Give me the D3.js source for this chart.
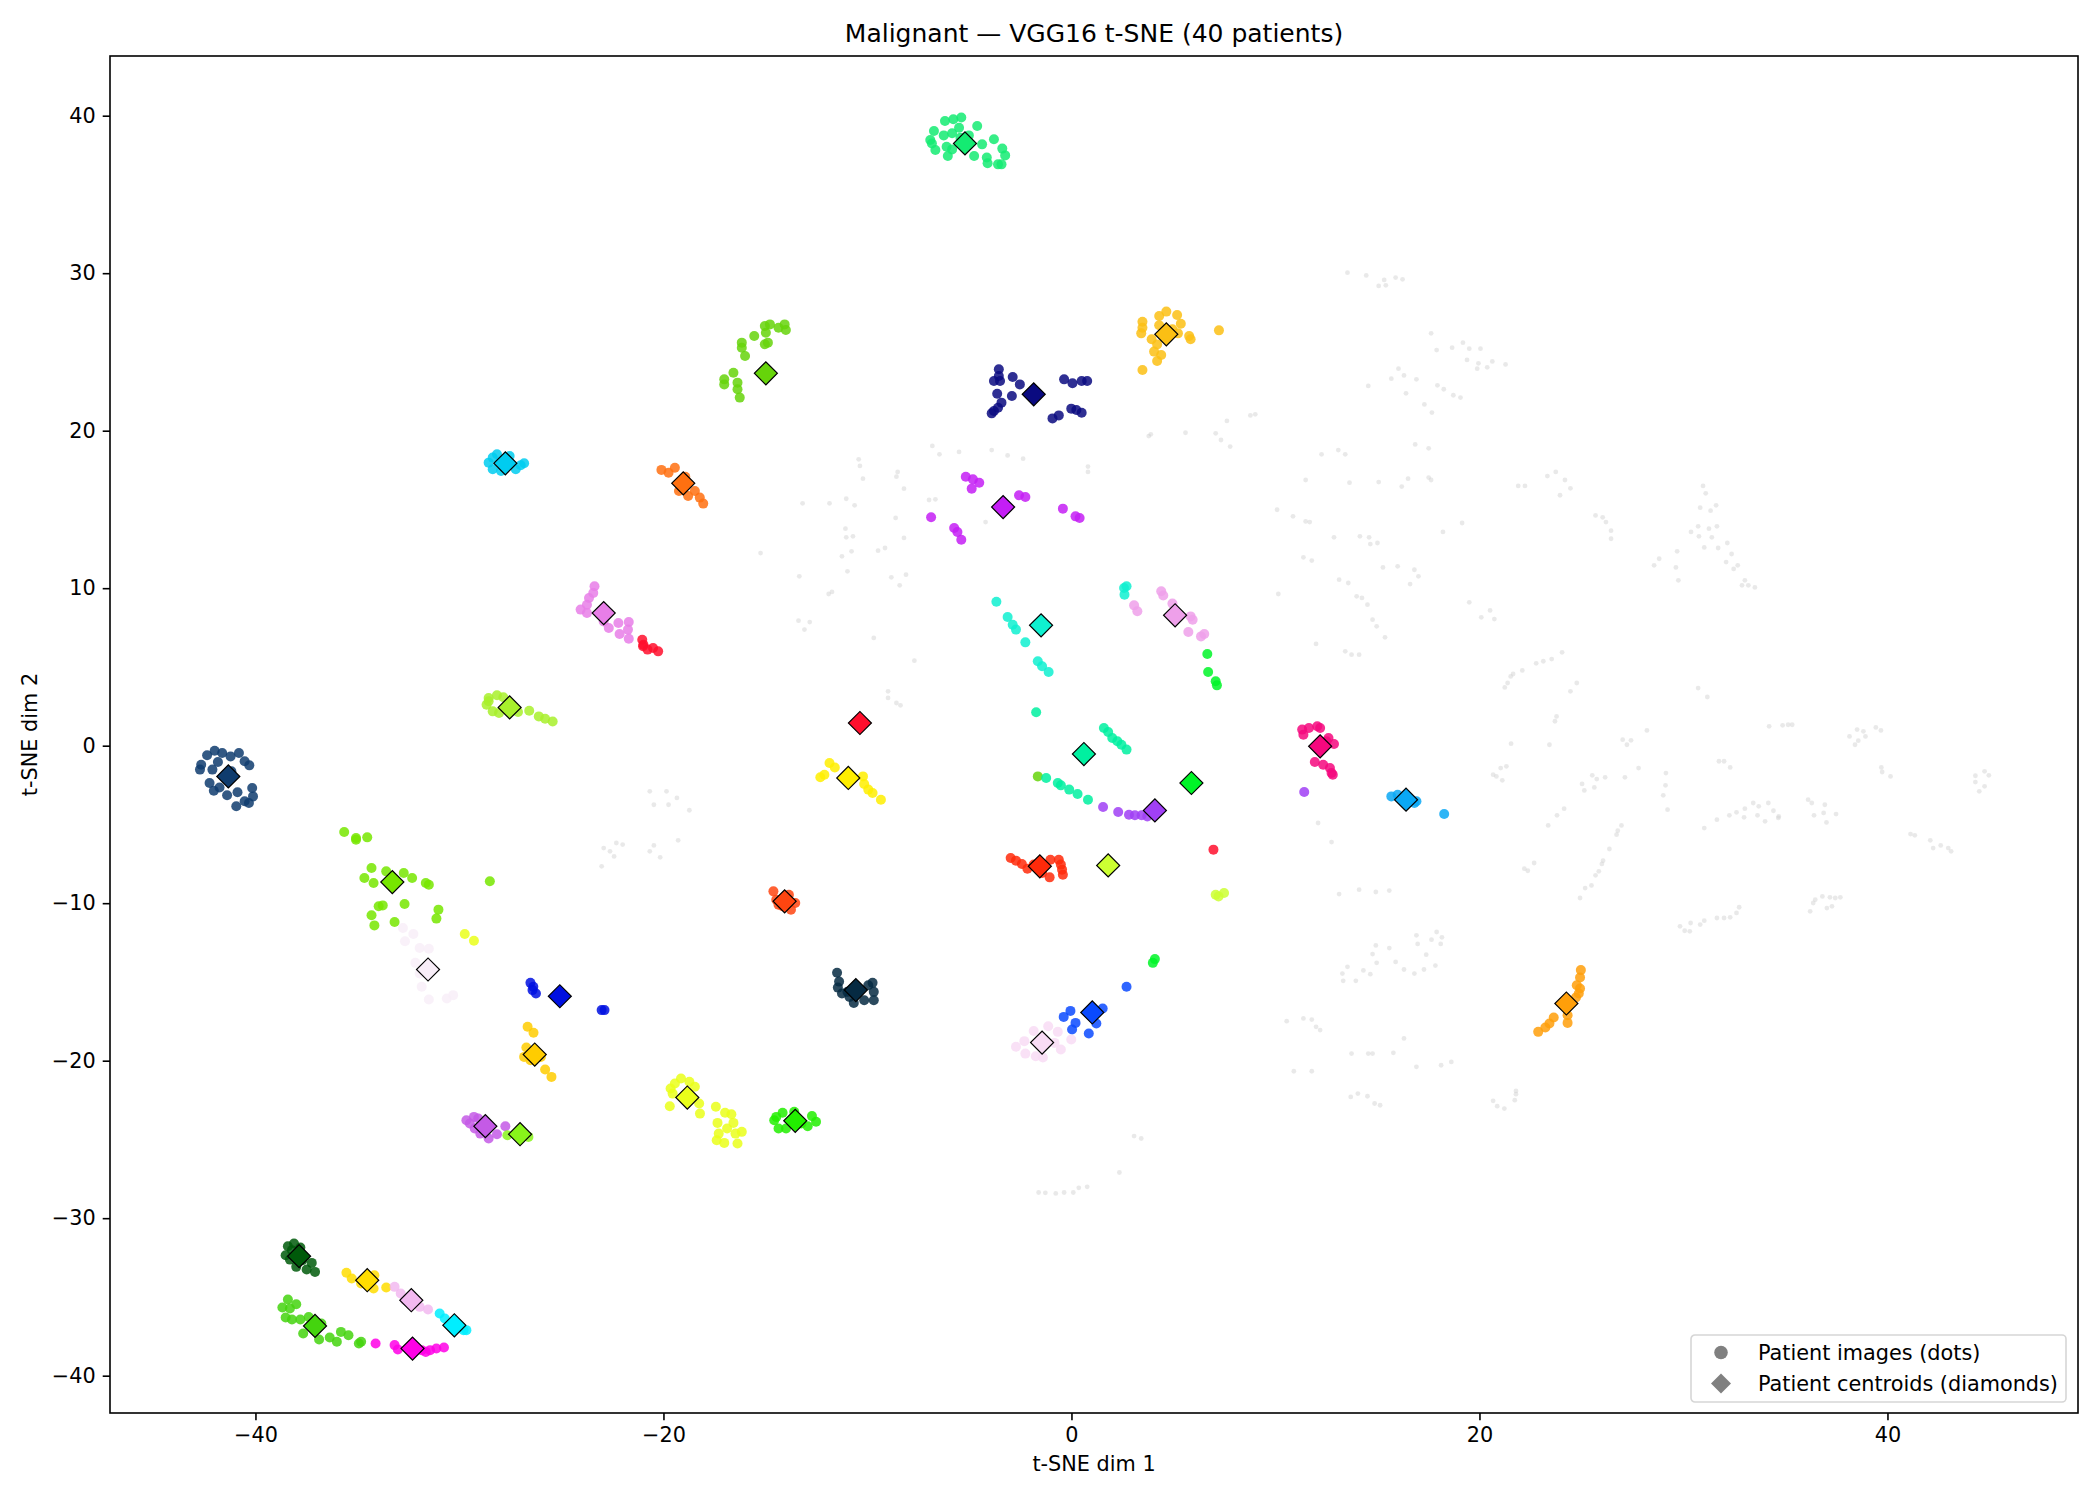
<!DOCTYPE html>
<html>
<head>
<meta charset="utf-8">
<script src="https://cdn.jsdelivr.net/npm/d3@7"></script>
<style>
  body { margin: 0; background: #fff; }
  text { font-family: "DejaVu Sans", sans-serif; fill: #000; }
</style>
</head>
<body>
<div id="chart"></div>
<script>
// ticks
const xTicks = [-40, -20, 0, 20, 40];
const yTicks = [-40, -30, -20, -10, 0, 10, 20, 30, 40];

// one colour per patient
const patientColors = [
  "#14eb72", "#fbbf14", "#0a0a80", "#66d40a", "#00ccf0", "#ff7010", "#c41ef5", "#e87ee8",
  "#ff0f2d", "#a8f02c", "#0f3c6e", "#77e600", "#f8eef8", "#0010e0", "#ffcc00", "#c45ae6",
  "#88f51a", "#005a0a", "#ffdd00", "#f2b8f0", "#00eeff", "#44d40e", "#ff00e6", "#ffee00",
  "#ff4510", "#062a42", "#eaff1a", "#22ee00", "#0ff0d0", "#00f0a0", "#a040f5", "#00f528",
  "#eea0ea", "#f5087e", "#0aa8f5", "#ff2a0a", "#ccff33", "#0a4aff", "#f8dcf5", "#ff9f0a"
];

// patient centroids (diamonds)
const centroids = [
  [-5.22, 38.24], [4.65, 26.12], [-1.85, 22.31], [-14.98, 23.64], [-27.75, 17.93], [-19.03, 16.66],
  [-3.35, 15.15], [-22.93, 8.42], [-10.37, 1.44], [-27.54, 2.43], [-41.33, -1.95], [-33.29, -8.66],
  [-31.54, -14.21], [-25.08, -15.91], [-26.31, -19.61], [-28.73, -24.16], [-27.03, -24.67], [-37.86, -32.41],
  [-34.52, -33.94], [-32.36, -35.21], [-30.25, -36.8], [-37.08, -36.84], [-32.3, -38.28], [-10.94, -2.05],
  [-14.06, -9.88], [-10.57, -15.52], [-18.83, -22.34], [-13.54, -23.82], [-1.49, 7.64], [0.61, -0.53],
  [4.09, -4.11], [5.88, -2.37], [5.08, 8.28], [12.19, -0.04], [16.4, -3.43], [-1.55, -7.66],
  [1.8, -7.6], [1.02, -16.94], [-1.44, -18.85], [24.26, -16.37]
];

// image embeddings for each patient (dots)
const patientDots = [
  [[-6.2,39.66],[-5.79,39.77],[-5.4,39.88],[-4.62,39.35],[-6.74,39.03],[-6.26,38.75],[-5.85,38.88],[-5.51,39.24],[-5.03,38.75],[-6.92,38.46],[-6.84,38.24],[-6.67,37.82],[-6.12,38.03],[-6.06,37.44],[-5.85,37.86],[-4.77,37.44],[-4.38,38.18],[-3.8,38.5],[-3.39,37.91],[-3.25,37.48],[-4.15,37.34],[-4.11,36.98],[-3.6,36.91],[-3.43,36.91],[-5.44,38.6]],
  [[3.48,26.92],[3.48,26.54],[3.42,26.18],[4.3,27.28],[4.65,27.56],[5.18,27.35],[5.36,26.79],[4.95,26.44],[5.22,26.18],[5.77,26.01],[5.84,25.8],[3.93,25.8],[4.2,25.48],[4.05,25.02],[4.4,24.81],[4.2,24.43],[3.48,23.85],[7.23,26.37],[4.3,26.69]],
  [[-3.56,23.9],[-3.56,23.47],[-3.8,23.16],[-3.5,23.16],[-2.88,23.41],[-2.53,22.94],[-3.64,22.35],[-2.92,22.2],[-3.43,21.78],[-3.6,21.46],[-3.8,21.25],[-3.91,21.1],[-0.36,23.26],[0.05,23.01],[0.5,23.16],[0.77,23.16],[-0.01,21.4],[0.24,21.31],[0.5,21.14],[-0.62,20.97],[-0.93,20.78]],
  [[-16.16,25.59],[-16.16,25.27],[-16.0,24.74],[-15.55,26.01],[-15.03,26.65],[-15.03,25.49],[-17.02,23.26],[-16.57,23.68],[-16.37,23.05],[-16.37,22.63],[-16.26,22.1],[-17.02,22.94],[-14.78,26.75],[-14.06,26.75],[-14.0,26.39],[-14.88,25.59],[-14.98,26.22],[-14.36,26.54],[-1.65,-1.95]],
  [[-28.57,17.97],[-28.37,17.55],[-28.16,18.5],[-27.54,18.39],[-27.24,17.55],[-26.83,17.93],[-28.37,18.29],[-27.96,17.44],[-27.0,17.8]],
  [[-20.1,17.51],[-19.44,17.65],[-19.75,17.33],[-19.24,16.17],[-18.79,15.85],[-18.46,16.17],[-18.22,15.75],[-18.05,15.37],[-18.93,17.08]],
  [[-5.18,17.08],[-4.83,16.91],[-4.52,16.7],[-4.89,16.32],[-2.57,15.9],[-2.26,15.79],[-0.42,15.05],[-6.88,14.5],[-5.75,13.82],[-5.59,13.57],[-5.4,13.08],[0.2,14.56],[0.4,14.46]],
  [[-23.38,10.12],[-23.44,9.69],[-23.65,9.38],[-23.75,8.95],[-24.06,8.64],[-23.75,8.42],[-22.93,7.89],[-22.68,7.47],[-22.21,7.79],[-21.7,7.85],[-21.74,7.37],[-22.15,7.09],[-21.7,6.79]],
  [[-21.04,6.73],[-20.98,6.41],[-20.78,6.1],[-20.51,6.2],[-20.26,5.99],[-21.0,6.31],[6.96,-6.6]],
  [[-28.57,3.03],[-28.16,3.2],[-27.85,3.07],[-28.67,2.6],[-28.37,2.18],[-28.06,2.07],[-27.13,2.14],[-26.58,2.22],[-26.11,1.86],[-25.8,1.71],[-25.43,1.54],[-28.57,2.82]],
  [[-42.37,-0.61],[-42.0,-0.32],[-41.63,-0.47],[-41.22,-0.68],[-40.81,-0.47],[-40.53,-0.99],[-40.3,-1.25],[-42.66,-1.21],[-42.72,-1.52],[-42.11,-1.52],[-41.84,-1.04],[-42.25,-2.37],[-42.04,-2.86],[-41.76,-2.65],[-41.39,-3.15],[-40.88,-2.96],[-40.53,-3.53],[-40.16,-2.69],[-40.12,-3.22],[-40.94,-3.85],[-41.18,-1.63],[-40.32,-3.64]],
  [[-35.65,-5.48],[-35.07,-5.97],[-34.52,-5.82],[-34.31,-7.77],[-34.66,-8.4],[-34.21,-8.72],[-33.59,-7.98],[-32.73,-8.08],[-32.32,-8.4],[-31.65,-8.72],[-31.5,-8.83],[-33.96,-10.2],[-33.76,-10.14],[-34.31,-10.77],[-34.17,-11.41],[-33.18,-11.2],[-32.69,-10.05],[-31.03,-10.41],[-31.13,-10.98],[-28.51,-8.61],[-35.07,-5.86]],
  [[-32.77,-11.58],[-32.26,-11.96],[-32.67,-12.42],[-31.95,-12.85],[-31.5,-12.89],[-32.16,-13.79],[-31.85,-15.31],[-31.5,-16.12],[-30.62,-16.05],[-30.31,-15.84],[-31.95,-14.47]],
  [[-26.52,-15.06],[-26.38,-15.31],[-26.25,-15.74],[-23.03,-16.79],[-22.89,-16.79],[-26.42,-15.52]],
  [[-26.66,-17.85],[-26.37,-18.23],[-26.72,-19.16],[-26.83,-19.76],[-26.52,-19.97],[-25.8,-20.56],[-25.49,-21.03],[-26.01,-19.76]],
  [[-29.66,-23.78],[-29.29,-23.57],[-29.08,-23.67],[-29.25,-24.31],[-28.98,-24.63],[-28.57,-24.94],[-28.16,-24.67],[-27.75,-24.16],[-29.49,-23.99]],
  [[-27.65,-24.73],[-26.62,-24.84]],
  [[-38.41,-31.78],[-38.11,-31.61],[-37.8,-31.86],[-38.52,-32.35],[-38.31,-32.63],[-38.0,-33.09],[-37.49,-33.26],[-37.24,-32.84],[-37.08,-33.41],[-37.7,-32.67],[-38.21,-32.03]],
  [[-35.54,-33.47],[-35.28,-33.83],[-34.17,-33.62],[-34.21,-34.47],[-33.59,-34.4],[-34.82,-34.15]],
  [[-33.18,-34.36],[-32.88,-34.78],[-31.95,-35.63],[-31.54,-35.8],[-32.67,-35.21]],
  [[-30.97,-36.05],[-30.72,-36.37],[-29.8,-37.11],[-29.66,-37.11],[-30.0,-36.9]],
  [[-38.41,-35.16],[-38.0,-35.46],[-38.68,-35.67],[-38.31,-35.74],[-38.52,-36.31],[-38.21,-36.43],[-37.8,-36.43],[-37.39,-36.27],[-36.77,-36.69],[-37.66,-37.32],[-36.88,-37.7],[-36.36,-37.58],[-36.01,-37.85],[-35.81,-37.22],[-35.44,-37.43],[-34.93,-37.96],[-34.82,-37.85]],
  [[-34.11,-37.96],[-33.18,-38.06],[-33.02,-38.34],[-31.85,-38.38],[-31.44,-38.38],[-31.13,-38.28],[-30.76,-38.21],[-31.65,-38.49]],
  [[-11.86,-1.1],[-11.6,-1.38],[-12.31,-2.01],[-12.11,-1.84],[-10.22,-1.95],[-10.16,-2.43],[-9.96,-2.79],[-9.75,-3.0],[-9.34,-3.43]],
  [[-14.61,-9.25],[-14.47,-9.78],[-14.36,-10.1],[-13.75,-10.41],[-13.54,-9.99],[-13.85,-9.46],[-14.16,-10.2]],
  [[-11.49,-14.42],[-11.39,-14.98],[-11.45,-15.36],[-11.25,-15.74],[-10.88,-15.95],[-10.67,-16.33],[-10.16,-16.16],[-9.75,-15.06],[-9.69,-15.63],[-9.69,-16.16],[-9.96,-15.21],[-10.98,-15.63]],
  [[-19.65,-21.77],[-19.55,-22.09],[-19.14,-21.13],[-18.73,-21.34],[-18.46,-21.66],[-19.69,-22.89],[-18.21,-23.36],[-18.25,-22.72],[-17.43,-22.93],[-16.98,-23.31],[-16.67,-23.4],[-16.57,-23.95],[-17.35,-23.95],[-16.88,-24.31],[-16.47,-24.63],[-16.16,-24.52],[-17.29,-24.63],[-17.39,-25.05],[-17.02,-25.22],[-16.37,-25.26],[-19.44,-21.45],[-29.74,-11.96],[-29.29,-12.38]],
  [[-14.47,-23.57],[-14.16,-23.31],[-13.59,-23.25],[-12.72,-23.52],[-12.52,-23.88],[-12.93,-24.16],[-14.36,-24.31],[-13.99,-24.31],[-14.57,-23.78],[-13.24,-23.99]],
  [[-3.68,9.14],[-3.13,8.17],[-2.88,7.68],[-2.72,7.37],[-2.26,6.56],[-1.65,5.36],[-1.44,5.04],[-1.12,4.68],[2.58,10.01],[2.7,10.12],[2.6,9.59]],
  [[1.59,1.12],[1.8,0.87],[2.0,0.49],[2.25,0.28],[2.45,0.06],[2.7,-0.25],[-1.24,-2.05],[-0.67,-2.37],[-0.52,-2.52],[-0.11,-2.79],[0.3,-3.07],[0.81,-3.43],[-1.73,2.12]],
  [[1.55,-3.89],[2.29,-4.21],[2.82,-4.38],[3.11,-4.42],[3.44,-4.42],[3.72,-4.49],[11.41,-2.94]],
  [[6.66,5.82],[6.7,4.68],[7.07,4.09],[7.13,3.83],[3.99,-13.79],[4.09,-13.55]],
  [[4.4,9.8],[4.5,9.54],[3.07,8.91],[3.23,8.53],[4.95,9.02],[5.84,8.21],[5.94,8.0],[5.73,7.22],[6.35,6.94],[6.51,7.09]],
  [[11.31,1.02],[11.64,1.12],[12.05,1.23],[12.19,1.12],[11.37,0.7],[12.6,0.49],[12.87,0.11],[12.5,0.28],[11.93,-1.04],[12.34,-1.21],[12.67,-1.42],[12.75,-1.74],[12.81,-1.84]],
  [[15.68,-3.22],[15.99,-3.11],[16.81,-3.64],[16.91,-3.53],[18.27,-4.34]],
  [[-2.98,-7.13],[-2.72,-7.3],[-2.43,-7.51],[-2.16,-7.81],[-1.03,-7.24],[-0.62,-7.24],[-0.52,-7.55],[-0.46,-7.87],[-0.42,-8.19],[-1.07,-8.36],[-1.44,-8.08],[-1.85,-7.55]],
  [[7.07,-9.46],[7.48,-9.35],[7.21,-9.57]],
  [[2.7,-15.31],[1.53,-16.69],[-0.05,-16.84],[-0.38,-17.22],[0.2,-17.6],[0.03,-18.02],[1.22,-17.64],[0.85,-18.28]],
  [[-2.72,-19.12],[-2.31,-18.76],[-1.85,-18.11],[-1.14,-17.81],[-0.67,-18.17],[-0.01,-18.66],[-0.52,-19.29],[-2.26,-19.55],[-1.75,-19.72],[-1.4,-19.8],[-0.83,-18.87]],
  [[24.97,-14.25],[24.93,-14.72],[24.77,-15.21],[24.93,-15.42],[24.87,-15.74],[24.73,-15.99],[24.32,-17.11],[24.32,-17.6],[23.64,-17.26],[23.43,-17.64],[23.23,-17.89],[22.88,-18.17]]
];

// the other images, drawn faint grey behind
const otherDots = [
  [13.53,30.03],[14.45,29.86],[15.33,29.57],[15.89,29.72],[16.23,29.61],[15.06,29.19],[15.41,29.23],
  [16.03,23.94],[15.68,23.3],[16.3,23.51],[16.91,23.26],[14.55,22.84],[16.4,22.37],
  [8.77,20.97],[9.01,21.04],[7.62,20.62],[5.59,19.87],[3.89,19.77],[3.79,19.66],[7.07,19.83],[7.33,19.41],[7.78,18.99],
  [12.26,18.5],[13.08,18.77],[13.42,18.5],[11.48,16.87],[13.63,16.7],[15.06,16.74],[16.19,16.45],[16.5,16.95],[16.85,19.13],
  [-6.82,19.03],[-6.47,18.5],[-5.51,18.65],[-3.91,18.77],[-3.13,18.43],[-2.37,18.22],[-10.43,18.18],[-10.37,17.76],[-10.22,16.95],
  [-8.52,17.38],[-8.58,17.08],[-8.21,16.32],[0.81,17.72],[0.81,17.38],[-13.18,15.39],[-11.86,15.39],[-11.04,15.68],[-10.63,15.26],[-6.98,15.6],[-6.67,15.64],
  [17.63,26.18],[17.9,25.12],[18.66,25.27],[19.19,25.59],[19.5,25.21],[20.05,25.21],[19.39,24.49],[19.95,24.28],[19.89,23.94],[20.38,24.02],
  [20.63,24.4],[21.28,24.21],[17.94,22.88],[18.25,22.63],[18.72,22.25],[19.07,22.1],[17.3,21.67],[17.67,21.15],[17.51,18.88],[17.51,17.02],
  [17.63,16.87],[21.9,16.49],[22.23,16.49],[23.33,17.12],[23.74,17.38],[24.19,16.87],[24.46,16.34],[23.95,15.9],[30.96,16.49],[31.09,16.02],[31.6,15.26],[30.82,15.11],
  [-8.62,14.46],[-11.08,13.78],[-11.04,13.23],[-10.71,13.29],[-8.21,13.19],[-4.21,14.2],[-11.25,12.02],[-10.78,12.34],[-9.48,12.38],[-9.14,12.55],
  [-13.34,10.75],[-10.98,11.07],[-8.83,10.69],[-8.11,10.86],[-8.42,10.18],[-11.9,9.63],[-11.74,9.76],[-13.38,7.94],[-12.83,7.85],[-13.09,7.37],
  [-9.69,6.84],[-7.7,5.4],[-8.99,3.45],[-8.99,3.03],[-8.58,2.71],[-8.38,2.56],
  [10.08,14.98],[10.86,14.56],[11.48,14.24],[11.68,14.2],[12.87,13.23],[14.14,13.29],[14.59,13.23],[14.65,12.8],[15.0,12.87],[11.37,11.96],
  [11.78,11.75],[15.27,11.32],[15.99,11.39],[16.81,11.17],[17.01,10.75],[13.12,10.54],[13.57,10.33],[16.6,10.26],[10.14,9.63],[13.98,9.48],
  [14.24,9.38],[14.51,8.95],[14.76,8.0],[14.96,7.58],[15.37,6.88],[11.99,6.46],[13.42,5.99],[13.73,5.78],[14.1,5.78],[12.09,-4.91],
  [12.75,-6.12],[13.12,-9.42],[14.1,-9.14],[14.92,-9.29],[15.58,-9.2],[16.91,-12.04],[14.92,-12.68],[15.58,-12.85],[14.76,-13.23],[16.97,-12.59],
  [18.21,13.57],[19.15,14.14],[25.69,14.62],[26.04,14.5],[26.2,14.2],[26.45,13.65],[26.45,13.14],[30.72,13.93],[31.25,13.78],[31.64,13.93],
  [30.37,13.57],[30.76,13.29],[31.39,13.23],[32.15,12.87],[31.02,12.59],[31.7,12.55],[32.36,12.17],[29.69,12.34],[28.81,11.87],[28.56,11.45],
  [29.63,11.32],[32.09,11.66],[32.66,11.45],[32.46,11.22],[29.75,10.5],[33.01,10.5],[32.87,10.18],[33.18,10.18],[33.5,10.05],[31.33,14.92],
  [19.5,9.1],[20.52,8.59],[20.09,8.15],[20.73,8.04],
  [24.05,5.93],[23.54,5.5],[23.13,5.36],[22.78,5.23],[22.1,4.78],[21.65,4.55],[21.53,4.4],[21.38,3.98],[21.24,3.7],[24.77,3.98],
  [24.46,3.45],[30.72,3.66],[31.17,3.09],[23.78,1.86],[23.7,1.55],
  [21.55,0.13],[23.43,0.06],[27.02,0.38],[27.43,0.34],[27.23,0.06],[28.21,0.97],[34.2,1.23],[34.86,1.29],[35.13,1.33],[35.33,1.33],
  [38.14,0.59],[38.51,1.02],[38.82,0.91],[38.92,0.59],[38.57,0.32],[38.41,0.06],[39.43,1.16],[39.68,0.97],
  [31.74,-0.99],[31.99,-0.99],[32.29,-1.38],[20.67,-1.84],[21.04,-1.42],[21.32,-1.31],[20.83,-1.95],[21.12,-2.2],[25.03,-2.43],[25.14,-2.84],
  [25.53,-1.88],[25.75,-2.12],[25.63,-2.65],[26.16,-2.01],[27.13,-2.01],[27.8,-1.42],[29.14,-1.74],[29.12,-2.52],[29.01,-3.15],[29.22,-4.06],
  [39.7,-1.38],[39.74,-1.67],[40.15,-1.95],[44.31,-1.91],[44.76,-1.63],[44.97,-1.88],[44.31,-2.31],[44.76,-2.58],[44.5,-2.9],
  [36.11,-3.43],[36.29,-3.64],[36.93,-3.75],[36.87,-4.27],[36.4,-4.42],[37.48,-4.34],[37.01,-4.87],
  [33.42,-3.64],[33.69,-3.85],[34.16,-3.64],[34.41,-4.13],[34.67,-4.49],[34.65,-4.59],[34.0,-4.8],[33.63,-4.42],[33.01,-4.0],[32.97,-4.55],
  [32.6,-4.23],[32.25,-4.42],[31.64,-4.7],[31.02,-5.23],
  [24.15,-4.0],[23.8,-4.42],[23.37,-5.06],[26.96,-5.06],[26.78,-5.4],[26.72,-5.65],[26.37,-6.56],[26.06,-7.3],[26.0,-7.51],[25.85,-7.98],
  [25.69,-8.23],[25.49,-8.87],[25.18,-9.04],[24.93,-9.67],[22.68,-7.45],[22.37,-7.94],[22.2,-7.81],
  [41.13,-5.61],[41.34,-5.69],[42.1,-6.01],[42.24,-6.5],[42.61,-6.33],[42.98,-6.5],[43.12,-6.71],
  [37.69,-9.63],[37.44,-9.67],[37.18,-9.63],[36.81,-9.57],[36.46,-9.78],[36.36,-9.99],[36.21,-10.52],[37.03,-10.31],[37.28,-10.2],
  [32.73,-10.26],[32.6,-10.62],[32.29,-10.9],[31.99,-10.94],[31.64,-10.94],[31.02,-11.11],[30.82,-11.36],[30.35,-11.26],[30.31,-11.79],[30.06,-11.75],[29.83,-11.47],
  [17.9,-11.83],[18.16,-12.17],[17.65,-12.32],[18.1,-12.59],[17.39,-13.27],
  [17.28,-14.21],[17.84,-13.96],[18.12,-20.29],[18.62,-20.08],[20.67,-22.55],[20.87,-22.89],[21.22,-23.04],[21.73,-22.51],[21.79,-21.92],[21.79,-22.13],
  [13.53,-14.04],[13.28,-14.47],[13.94,-14.93],[14.31,-14.27],[14.65,-14.51],[14.96,-13.79],[15.89,-13.73],[16.3,-14.21],[16.81,-14.47],[13.32,-14.93],
  [10.55,-17.49],[11.37,-17.32],[11.78,-17.39],[11.99,-17.85],[12.19,-18.06],[16.3,-18.59],[13.73,-19.55],[14.55,-19.55],[14.76,-19.55],[15.78,-19.5],
  [16.91,-20.39],[10.9,-20.67],[11.78,-20.67],[13.69,-22.3],[14.04,-22.09],[14.51,-22.26],[14.86,-22.72],[15.13,-22.83],[3.07,-24.79],[3.42,-24.94],
  [2.35,-27.1],[-1.61,-28.37],[-1.28,-28.39],[-0.77,-28.43],[-0.36,-28.37],[0.09,-28.37],[0.36,-28.07],[0.77,-28.01],
  [-20.67,-2.9],[-19.85,-2.9],[-19.34,-3.32],[-20.47,-3.75],[-19.75,-3.75],[-18.73,-4.1],[-22.93,-6.5],[-22.31,-6.18],[-22.0,-6.28],[-22.62,-6.71],
  [-22.42,-7.03],[-20.47,-6.33],[-20.67,-6.71],[-20.16,-7.09],[-19.28,-6.01],[-23.03,-7.66],[-15.24,12.23]
];

const legendLabels = ["Patient images (dots)", "Patient centroids (diamonds)"];

const WIDTH = 2100;
const HEIGHT = 1500;
const LEFT = 110, RIGHT = 2078, TOP = 56, BOTTOM = 1413;
const FONT = 20.8;

const svg = d3.select('#chart').append('svg')
  .attr('width', WIDTH).attr('height', HEIGHT)
  .style('display', 'block');

const x = d3.scaleLinear().domain([-47.13, 49.34]).range([LEFT, RIGHT]);
const y = d3.scaleLinear().domain([-42.37, 43.79]).range([BOTTOM, TOP]);

// clip so nothing spills over the frame
svg.append('clipPath').attr('id', 'plot')
  .append('rect').attr('x', LEFT).attr('y', TOP)
  .attr('width', RIGHT - LEFT).attr('height', BOTTOM - TOP);

const plot = svg.append('g').attr('clip-path', 'url(#plot)');

// faint grey background images
plot.append('g').selectAll('circle')
  .data(otherDots)
  .enter()
  .append('circle')
  .attr('cx', d => x(d[0]))
  .attr('cy', d => y(d[1]))
  .attr('r', 2.4)
  .attr('fill', '#cfcfcf')
  .attr('fill-opacity', 0.45);

// coloured patient images
patientDots.forEach((dots, i) => {
  plot.append('g').selectAll('circle')
    .data(dots)
    .enter()
    .append('circle')
    .attr('cx', d => x(d[0]))
    .attr('cy', d => y(d[1]))
    .attr('r', 5)
    .attr('fill', patientColors[i])
    .attr('fill-opacity', 0.85);
});

// centroids as diamonds (square turned 45deg, like matplotlib 'D')
const diamond = d3.symbol().type(d3.symbolSquare).size(265);
plot.append('g').selectAll('path')
  .data(centroids)
  .enter()
  .append('path')
  .attr('d', diamond)
  .attr('transform', d => `translate(${x(d[0])},${y(d[1])}) rotate(45)`)
  .attr('fill', (d, i) => patientColors[i])
  .attr('stroke', '#000')
  .attr('stroke-width', 1.2);

// axes
const fmt = d3.format('d');
const xAxis = svg.append('g')
  .attr('transform', `translate(0,${BOTTOM})`)
  .call(d3.axisBottom(x).tickValues(xTicks).tickFormat(fmt).tickSize(7.3).tickPadding(7));
const yAxis = svg.append('g')
  .attr('transform', `translate(${LEFT},0)`)
  .call(d3.axisLeft(y).tickValues(yTicks).tickFormat(fmt).tickSize(7.3).tickPadding(7));

[xAxis, yAxis].forEach(a => {
  a.select('.domain').remove();
  a.selectAll('line').attr('stroke', '#000').attr('stroke-width', 1.6);
  a.selectAll('text')
    .style('font-family', '"DejaVu Sans", sans-serif')
    .style('font-size', FONT + 'px')
    .attr('fill', '#000');
});

// frame
svg.append('rect')
  .attr('x', LEFT).attr('y', TOP)
  .attr('width', RIGHT - LEFT).attr('height', BOTTOM - TOP)
  .attr('fill', 'none').attr('stroke', '#000').attr('stroke-width', 1.6);

// title and labels
svg.append('text')
  .attr('x', (LEFT + RIGHT) / 2).attr('y', 42)
  .attr('text-anchor', 'middle')
  .style('font-size', '25px')
  .text('Malignant — VGG16 t-SNE (40 patients)');

svg.append('text')
  .attr('x', (LEFT + RIGHT) / 2).attr('y', 1471)
  .attr('text-anchor', 'middle')
  .style('font-size', FONT + 'px')
  .text('t-SNE dim 1');

svg.append('text')
  .attr('transform', `translate(37,${(TOP + BOTTOM) / 2}) rotate(-90)`)
  .attr('text-anchor', 'middle')
  .style('font-size', FONT + 'px')
  .text('t-SNE dim 2');

// legend
const legend = svg.append('g').attr('transform', 'translate(1691,1335)');
legend.append('rect')
  .attr('width', 375).attr('height', 67)
  .attr('rx', 4)
  .attr('fill', '#fff').attr('fill-opacity', 0.8)
  .attr('stroke', '#d6d6d6').attr('stroke-width', 1.6);

legend.append('circle')
  .attr('cx', 30).attr('cy', 17.5).attr('r', 6.8)
  .attr('fill', '#808080');
legend.append('path')
  .attr('d', d3.symbol().type(d3.symbolSquare).size(200))
  .attr('transform', 'translate(30,48.5) rotate(45)')
  .attr('fill', '#808080');

legend.selectAll('text.lbl')
  .data(legendLabels)
  .enter()
  .append('text')
  .attr('class', 'lbl')
  .attr('x', 67)
  .attr('y', (d, i) => 25 + i * 31)
  .style('font-size', FONT + 'px')
  .text(d => d);
</script>
</body>
</html>
